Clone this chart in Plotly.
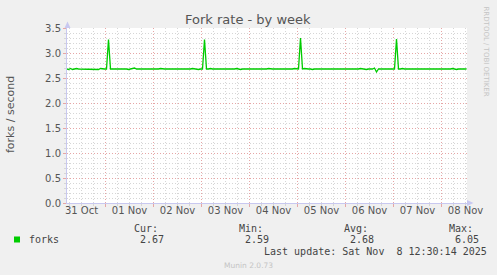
import pandas as pd
import plotly.graph_objects as go

# ---- data ----
start_time = "2025-10-31 04:30"   # hourly samples (at :30)
oct31 = [2.68, 2.67, 2.69, 2.67, 2.68, 2.69, 2.68, 2.68, 2.68, 2.68, 2.68, 2.68, 2.68, 2.68, 2.68, 2.68, 2.67, 2.69, 2.68, 2.68]
nov01 = [2.68, 3.27, 2.68, 2.68, 2.68, 2.68, 2.68, 2.68, 2.69, 2.68, 2.68, 2.67, 2.68, 2.68, 2.70, 2.68, 2.68, 2.68, 2.67, 2.68, 2.68, 2.68, 2.68, 2.68]
nov02 = [2.68, 2.68, 2.68, 2.69, 2.68, 2.68, 2.68, 2.68, 2.68, 2.68, 2.68, 2.68, 2.67, 2.68, 2.68, 2.68, 2.68, 2.68, 2.68, 2.69, 2.68, 2.68, 2.67, 2.68]
nov03 = [2.68, 3.27, 2.68, 2.68, 2.69, 2.68, 2.68, 2.67, 2.68, 2.68, 2.68, 2.67, 2.68, 2.68, 2.67, 2.68, 2.68, 2.69, 2.68, 2.67, 2.68, 2.68, 2.68, 2.68]
nov04 = [2.68, 2.67, 2.68, 2.68, 2.68, 2.68, 2.67, 2.68, 2.68, 2.69, 2.68, 2.68, 2.68, 2.68, 2.67, 2.68, 2.68, 2.68, 2.67, 2.68, 2.68, 2.68, 2.69, 2.68]
nov05 = [2.68, 3.30, 2.68, 2.69, 2.68, 2.68, 2.68, 2.67, 2.68, 2.68, 2.68, 2.68, 2.67, 2.68, 2.68, 2.68, 2.68, 2.68, 2.67, 2.68, 2.68, 2.68, 2.68, 2.68]
nov06 = [2.68, 2.68, 2.67, 2.68, 2.68, 2.68, 2.68, 2.69, 2.68, 2.68, 2.67, 2.68, 2.68, 2.68, 2.70, 2.62, 2.68, 2.68, 2.68, 2.68, 2.68, 2.68, 2.68, 2.68]
nov07 = [2.68, 3.28, 2.68, 2.68, 2.69, 2.68, 2.68, 2.68, 2.67, 2.68, 2.68, 2.68, 2.68, 2.67, 2.68, 2.68, 2.68, 2.68, 2.67, 2.68, 2.68, 2.67, 2.68, 2.68]
nov08 = [2.68, 2.68, 2.67, 2.68, 2.68, 2.69, 2.68, 2.67, 2.68, 2.68, 2.68, 2.67, 2.68]

forks = oct31 + nov01 + nov02 + nov03 + nov04 + nov05 + nov06 + nov07 + nov08
times = pd.date_range(start_time, periods=len(forks), freq="h")

day_labels = ["31 Oct", "01 Nov", "02 Nov", "03 Nov", "04 Nov", "05 Nov", "06 Nov", "07 Nov", "08 Nov"]
label_times = ["2025-10-31 12:00", "2025-11-01 12:00", "2025-11-02 12:00", "2025-11-03 12:00",
               "2025-11-04 12:00", "2025-11-05 12:00", "2025-11-06 12:00", "2025-11-07 12:00",
               "2025-11-08 12:00"]
midnights = ["2025-11-01", "2025-11-02", "2025-11-03", "2025-11-04", "2025-11-05",
             "2025-11-06", "2025-11-07", "2025-11-08"]
x_range = ["2025-10-31 04:45", "2025-11-08 12:45"]
y_ticks = [0.0, 0.5, 1.0, 1.5, 2.0, 2.5, 3.0, 3.5]

stats_labels = ["Cur:", "Min:", "Avg:", "Max:"]
stats_values = ["2.67", "2.59", "2.68", "6.05"]

# minor grid positions (6 h / 0.1), skipping the major ones
six_hourly = pd.date_range("2025-10-31 06:00", "2025-11-08 12:00", freq="6h")
x_minor = [t for t in six_hourly if t.hour != 0]
y_minor = [k / 10 for k in range(1, 35) if k % 5 != 0]

# ---- layout constants (pixels) ----
W, H = 497, 275
L, R, T, B = 67, 467, 28, 203
PW, PH = R - L, B - T


def px(x):
    return (x - L) / PW


def py(y):
    return (B - y) / PH


GREEN = "#00cc00"
TXT = "#555555"
LEG = "#444444"
AXIS = "#c8c8f0"
MAJ = "#e6a6a6"
MIN = "#d6d6d6"
DOT = "1px,2px"

fig = go.Figure()
fig.add_trace(go.Scatter(x=times, y=forks, mode="lines",
                         line=dict(color=GREEN, width=1.3), showlegend=False,
                         hoverinfo="skip"))
# invisible trace for the label axis
fig.add_trace(go.Scatter(x=times, y=forks, mode="lines", xaxis="x2",
                         line=dict(color="rgba(0,0,0,0)", width=0), showlegend=False,
                         hoverinfo="skip"))

fig.update_layout(
    width=W, height=H,
    margin=dict(l=L, r=W - R, t=T, b=H - B),
    paper_bgcolor="#f0f0f0",
    plot_bgcolor="#ffffff",
    font=dict(family="DejaVu Sans", size=10, color=TXT),
    xaxis=dict(
        type="date", range=x_range, tickmode="array", tickvals=midnights,
        showticklabels=False, showgrid=True, gridcolor=MAJ, griddash=DOT,
        gridwidth=1, ticks="outside", ticklen=3, tickcolor=MAJ,
        showline=True, linecolor=AXIS, linewidth=1, zeroline=False,
        minor=dict(tickmode="array", tickvals=x_minor, showgrid=True,
                   gridcolor=MIN, griddash=DOT, gridwidth=1,
                   ticks="outside", ticklen=2, tickcolor=MIN),
    ),
    xaxis2=dict(
        type="date", range=x_range, overlaying="x", side="bottom",
        tickmode="array", tickvals=label_times, ticktext=day_labels,
        showgrid=False, zeroline=False, ticks="", showline=False,
        tickfont=dict(family="DejaVu Sans", size=10, color=TXT),
    ),
    yaxis=dict(
        range=[0, 3.5], tickmode="array", tickvals=y_ticks, tickformat=".1f",
        showgrid=True, gridcolor=MAJ, griddash=DOT, gridwidth=1,
        ticks="outside", ticklen=3, tickcolor=MAJ,
        showline=True, linecolor=AXIS, linewidth=1, zeroline=False,
        tickfont=dict(family="DejaVu Sans", size=10, color=TXT),
        minor=dict(tickmode="array", tickvals=y_minor, showgrid=True, gridcolor=MIN,
                   griddash=DOT, gridwidth=1, ticks="outside", ticklen=2, tickcolor=MIN),
    ),
    showlegend=False,
)

# axis arrows
fig.add_shape(type="path", xref="paper", yref="paper",
              path=f"M {px(64.5)} {py(28)} L {px(70.5)} {py(28)} L {px(67.5)} {py(21.5)} Z",
              fillcolor=AXIS, line=dict(width=0))
fig.add_shape(type="path", xref="paper", yref="paper",
              path=f"M {px(467)} {py(200)} L {px(467)} {py(206)} L {px(473.5)} {py(203)} Z",
              fillcolor=AXIS, line=dict(width=0))

ann = []
ann.append(dict(text="Fork rate - by week", x=px(248), y=py(19), xref="paper", yref="paper",
                showarrow=False, xanchor="center", yanchor="middle",
                font=dict(family="DejaVu Sans", size=13, color=TXT)))
ann.append(dict(text="forks / second", x=px(10), y=py(115), xref="paper", yref="paper",
                showarrow=False, xanchor="center", yanchor="middle", textangle=-90,
                font=dict(family="DejaVu Sans", size=11, color=TXT)))
ann.append(dict(text="RRDTOOL / TOBI OETIKER", x=px(485.5), y=py(52), xref="paper", yref="paper",
                showarrow=False, xanchor="center", yanchor="middle", textangle=90,
                font=dict(family="DejaVu Sans", size=7, color="#c4c4c4")))

MONO = "DejaVu Sans Mono"
ann.append(dict(text="forks", x=px(27), y=py(239.5), xref="paper", yref="paper",
                showarrow=False, xanchor="left", yanchor="middle",
                font=dict(family=MONO, size=10, color=LEG)))
stat_x = [131.5, 236.5, 341.5, 446.5]
for sx, lab, val in zip(stat_x, stats_labels, stats_values):
    ann.append(dict(text=lab, x=px(sx), y=py(228), xref="paper", yref="paper",
                    showarrow=False, xanchor="left", yanchor="middle",
                    font=dict(family=MONO, size=10, color=LEG)))
    ann.append(dict(text=val, x=px(sx + 6), y=py(239.5), xref="paper", yref="paper",
                    showarrow=False, xanchor="left", yanchor="middle",
                    font=dict(family=MONO, size=10, color=LEG)))
ann.append(dict(text="Last update: Sat Nov&nbsp;&nbsp;8 12:30:14 2025", x=px(261.5), y=py(251.5),
                xref="paper", yref="paper", showarrow=False, xanchor="left", yanchor="middle",
                font=dict(family=MONO, size=10, color=LEG)))
ann.append(dict(text="Munin 2.0.73", x=px(248), y=py(265), xref="paper", yref="paper",
                showarrow=False, xanchor="center", yanchor="middle",
                font=dict(family="DejaVu Sans", size=7.5, color="#c4c4c4")))
fig.update_layout(annotations=ann)

fig.add_shape(type="rect", xref="paper", yref="paper",
              x0=px(14), x1=px(20), y0=py(242.5), y1=py(236.5),
              fillcolor=GREEN, line=dict(width=0))

fig.write_html("out.html")
